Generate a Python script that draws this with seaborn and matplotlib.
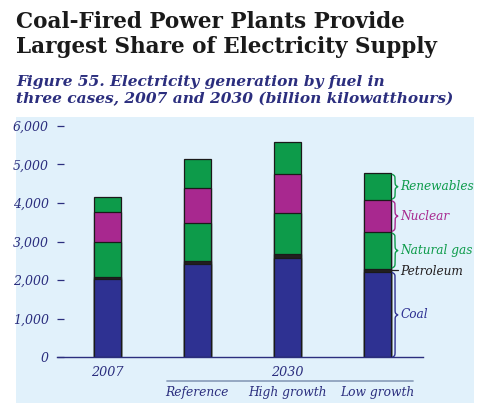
import numpy as np
import pandas as pd
import seaborn as sns
import matplotlib.pyplot as plt
from matplotlib.patches import Rectangle

# data (billion kilowatthours)
cases = ["2007", "Reference", "High growth", "Low growth"]
fuels = ["Coal", "Petroleum", "Natural gas", "Nuclear", "Renewables"]
coal = [2020, 2420, 2580, 2220]
petroleum = [70, 75, 90, 70]
natural_gas = [890, 995, 1060, 950]
nuclear = [795, 905, 1010, 835]
renewables = [370, 735, 830, 690]

fuel_colors = {"Coal": "#2E3192", "Petroleum": "#231F20", "Natural gas": "#0D9B4A",
               "Nuclear": "#A8288F", "Renewables": "#0D9B4A"}
navy = "#2B2E7E"
bg = "#E1F1FB"

df = pd.DataFrame({"case": cases, "Coal": coal, "Petroleum": petroleum,
                   "Natural gas": natural_gas, "Nuclear": nuclear, "Renewables": renewables})
cum = df[fuels].cumsum(axis=1)
cum["case"] = df["case"]

sns.set_style("white")
plt.rcParams["font.family"] = ["DejaVu Serif"]

fig = plt.figure(figsize=(5.03, 4.15), dpi=100)
W, H = 503, 415
fig.patches.append(Rectangle((16 / W, 1 - 403 / H), (474 - 16) / W, (403 - 117) / H,
                             transform=fig.transFigure, facecolor=bg, edgecolor="none", zorder=-10))

ax = fig.add_axes([57 / W, 1 - 357.3 / H, (423 - 57) / W, (357.3 - 125.7) / H])
ax.patch.set_alpha(0)

# stacked bars: draw cumulative totals from the top segment down
for f in fuels[::-1]:
    sns.barplot(data=cum, x="case", y=f, order=cases, color=fuel_colors[f], width=0.3,
                edgecolor="#1A1A1A", linewidth=0.9, saturation=1, ax=ax)

ax.set_xlim(-0.556, 3.511)
ax.set_ylim(0, 6000)
ax.set_yticks(range(0, 6001, 1000))
ax.set_yticklabels([f"{v:,}" for v in range(0, 6001, 1000)], fontstyle="italic",
                   color=navy, fontsize=9)
ax.tick_params(axis="y", direction="in", length=5, width=0.9, color=navy, pad=6, left=True)
ax.set_xticks([])
ax.set_xlabel("")
ax.set_ylabel("")
for s in ["top", "right", "left"]:
    ax.spines[s].set_visible(False)
ax.spines["bottom"].set_color(navy)
ax.spines["bottom"].set_linewidth(1.0)

# x labels
ax.text(0, -390, "2007", ha="center", va="center", fontstyle="italic", color=navy, fontsize=9.2)
ax.text(2, -390, "2030", ha="center", va="center", fontstyle="italic", color=navy, fontsize=9.2)
ax.plot([0.67, 3.4], [-620, -620], color="#8FA2BE", lw=1.3, clip_on=False)
for i, c in enumerate(cases[1:], start=1):
    ax.text(i, -900, c, ha="center", va="center", fontstyle="italic", color=navy, fontsize=8.8)

# braces next to the last bar
px_y = ax.get_position().height * H / 6000.0
px_x = ax.get_position().width * W / (3.511 + 0.556)


def brace(y0, y1, color, x0=3.17, w=5.5):
    L = (y1 - y0) * px_y
    n = 200
    u = np.linspace(0, L / 2, n)
    beta = 1.3
    half = 1 / (1 + np.exp(-beta * (u - u[0]))) + 1 / (1 + np.exp(-beta * (u - u[-1])))
    off = np.concatenate((half, half[-2::-1]))
    off = (off - off.min()) / (off.max() - off.min()) * w
    uu = np.linspace(0, L, len(off))
    ax.plot(x0 + off / px_x, y0 + uu / px_y, color=color, lw=1.0, clip_on=False)


last = cum.iloc[-1]
bottoms = {"Coal": 0, "Petroleum": last["Coal"], "Natural gas": last["Petroleum"],
           "Nuclear": last["Natural gas"], "Renewables": last["Nuclear"]}
tx = 3.17 + 8 / px_x
for f in fuels:
    y0, y1 = bottoms[f], last[f]
    if f == "Petroleum":
        ym = (y0 + y1) / 2
        ax.plot([3.15, 3.15 + 7 / px_x], [ym, ym], color=fuel_colors[f], lw=0.9, clip_on=False)
        ax.text(tx, ym - 20, f, ha="left", va="center", fontstyle="italic",
                color=fuel_colors[f], fontsize=8.7)
    else:
        lo = y0 + 25 if f != "Coal" else y0
        brace(lo, y1 - 25, fuel_colors[f])
        ax.text(tx, (y0 + y1) / 2, f, ha="left", va="center", fontstyle="italic",
                color=fuel_colors[f], fontsize=8.7)

# titles
fig.text(16 / W, 1 - 11 / H, "Coal-Fired Power Plants Provide\nLargest Share of Electricity Supply",
         ha="left", va="top", fontsize=15.5, fontweight="bold", color="#1A1A1A", linespacing=1.2)
fig.text(16 / W, 1 - 75 / H, "Figure 55. Electricity generation by fuel in\nthree cases, 2007 and 2030 (billion kilowatthours)",
         ha="left", va="top", fontsize=11.1, fontweight="bold", fontstyle="italic", color=navy,
         linespacing=1.3)

fig.savefig("out.png", dpi=100)
